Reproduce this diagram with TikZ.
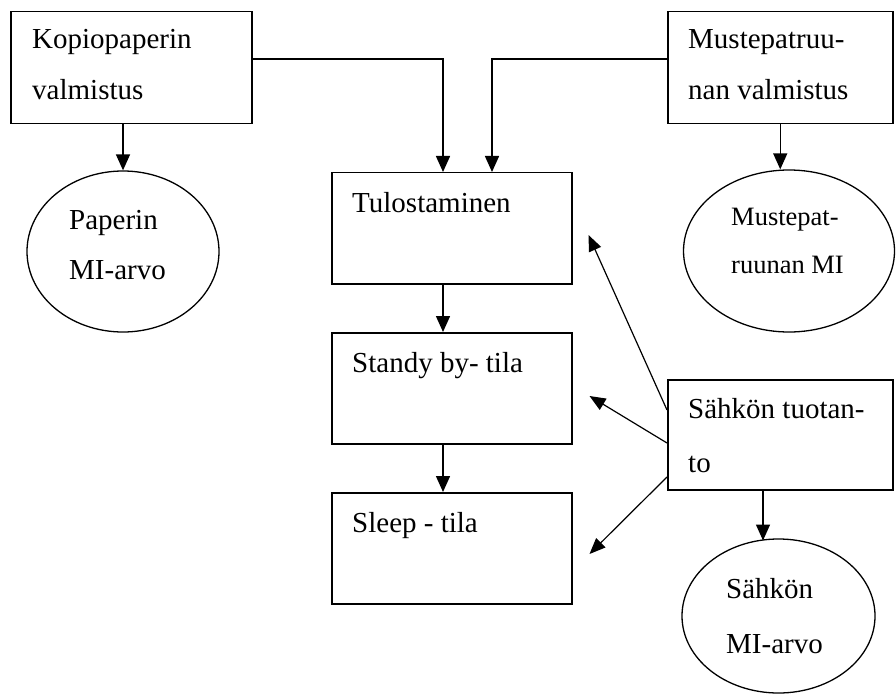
\documentclass[tikz,border=0pt]{standalone}
\usepackage{fontspec}
\setmainfont{Liberation Serif}
\usetikzlibrary{shapes.geometric,arrows.meta,calc}
\begin{document}
\begin{tikzpicture}[x=1pt,y=-1pt,
  box/.style={draw,line width=1.5pt,rectangle,inner sep=0pt,anchor=north west},
  oval/.style={draw,line width=1.3pt,ellipse,inner sep=0pt},
  txt/.style={font=\fontsize{29}{34}\selectfont,inner sep=0pt,anchor=base west},
  stxt/.style={font=\fontsize{26.5}{32}\selectfont,inner sep=0pt,anchor=base west},
  arr/.style={-{Triangle[length=16pt,width=14pt]},line width=1.5pt},
  darr/.style={-{Triangle[length=16pt,width=13pt]},line width=1.2pt}]
\useasboundingbox (0,0) rectangle (896,695);
% boxes
\node[box,minimum width=241pt,minimum height=112pt] (kop) at (10,11) {};
\node[box,minimum width=225pt,minimum height=112pt] (mus) at (667,11) {};
\node[box,minimum width=240pt,minimum height=111pt] (tul) at (331,172) {};
\node[box,minimum width=240pt,minimum height=111pt] (sta) at (331,332) {};
\node[box,minimum width=240pt,minimum height=111pt] (sle) at (331,492) {};
\node[box,minimum width=225pt,minimum height=110pt] (sah) at (667,379) {};
% ellipses
\node[oval,minimum width=192pt,minimum height=161pt] (pap) at (123,251.5) {};
\node[oval,minimum width=211pt,minimum height=162pt] (mui) at (789,251) {};
\node[oval,minimum width=193pt,minimum height=154pt] (smi) at (778.5,616) {};
% texts
\node[txt] (kopa) at (32,49) {Kopiopaperin};
\node[txt] (kopb) at (32,100) {valmistus};
\node[txt] (musa) at (688,49) {Mustepatruu-};
\node[txt] (musb) at (688,100) {nan valmistus};
\node[txt] (tula) at (352,212) {Tulostaminen};
\node[txt] (staa) at (352,372) {Standy by- tila};
\node[txt] (slea) at (352,532) {Sleep - tila};
\node[txt] (saha) at (688,418) {Sähkön tuotan-};
\node[txt] (sahb) at (688,472) {to};
\node[txt] (papa) at (69,229) {Paperin};
\node[txt] (papb) at (69,279) {MI-arvo};
\node[stxt] (muia) at (731,225) {Mustepat-};
\node[stxt] (muib) at (731,273) {ruunan MI};
\node[txt] (smia) at (726,598) {Sähkön};
\node[txt] (smib) at (726,653) {MI-arvo};
% free ends of the diagonal connectors
\coordinate (tulin) at ($(tul.north east)+(16,63)$);
\coordinate (stain) at ($(sta.north east)+(17,64)$);
\coordinate (slein) at ($(sle.north east)+(17,62)$);
% connectors
\draw[arr] ($(kop.north east)+(0,48)$) -| ($(tul.north west)+(112,0)$);
\draw[arr] ($(mus.north west)+(0,48)$) -| ($(tul.north west)+(161,0)$);
\draw[arr] (pap.north |- kop.south) -- (pap.north);
\draw[arr] (mus.south) -- (mus.south |- mui.north);
\draw[arr] ($(tul.south west)+(112,0)$) -- ($(sta.north west)+(112,0)$);
\draw[arr] ($(sta.south west)+(112,0)$) -- ($(sle.north west)+(112,0)$);
\draw[arr] ($(sah.south west)+(96,0)$) -- ($(sah.south west)+(96,50)$);
\draw[darr] ($(sah.north west)+(0,31)$) -- (tulin);
\draw[darr] ($(sah.north west)+(0,64)$) -- (stain);
\draw[darr] ($(sah.north west)+(0,98)$) -- (slein);
\end{tikzpicture}
\end{document}
